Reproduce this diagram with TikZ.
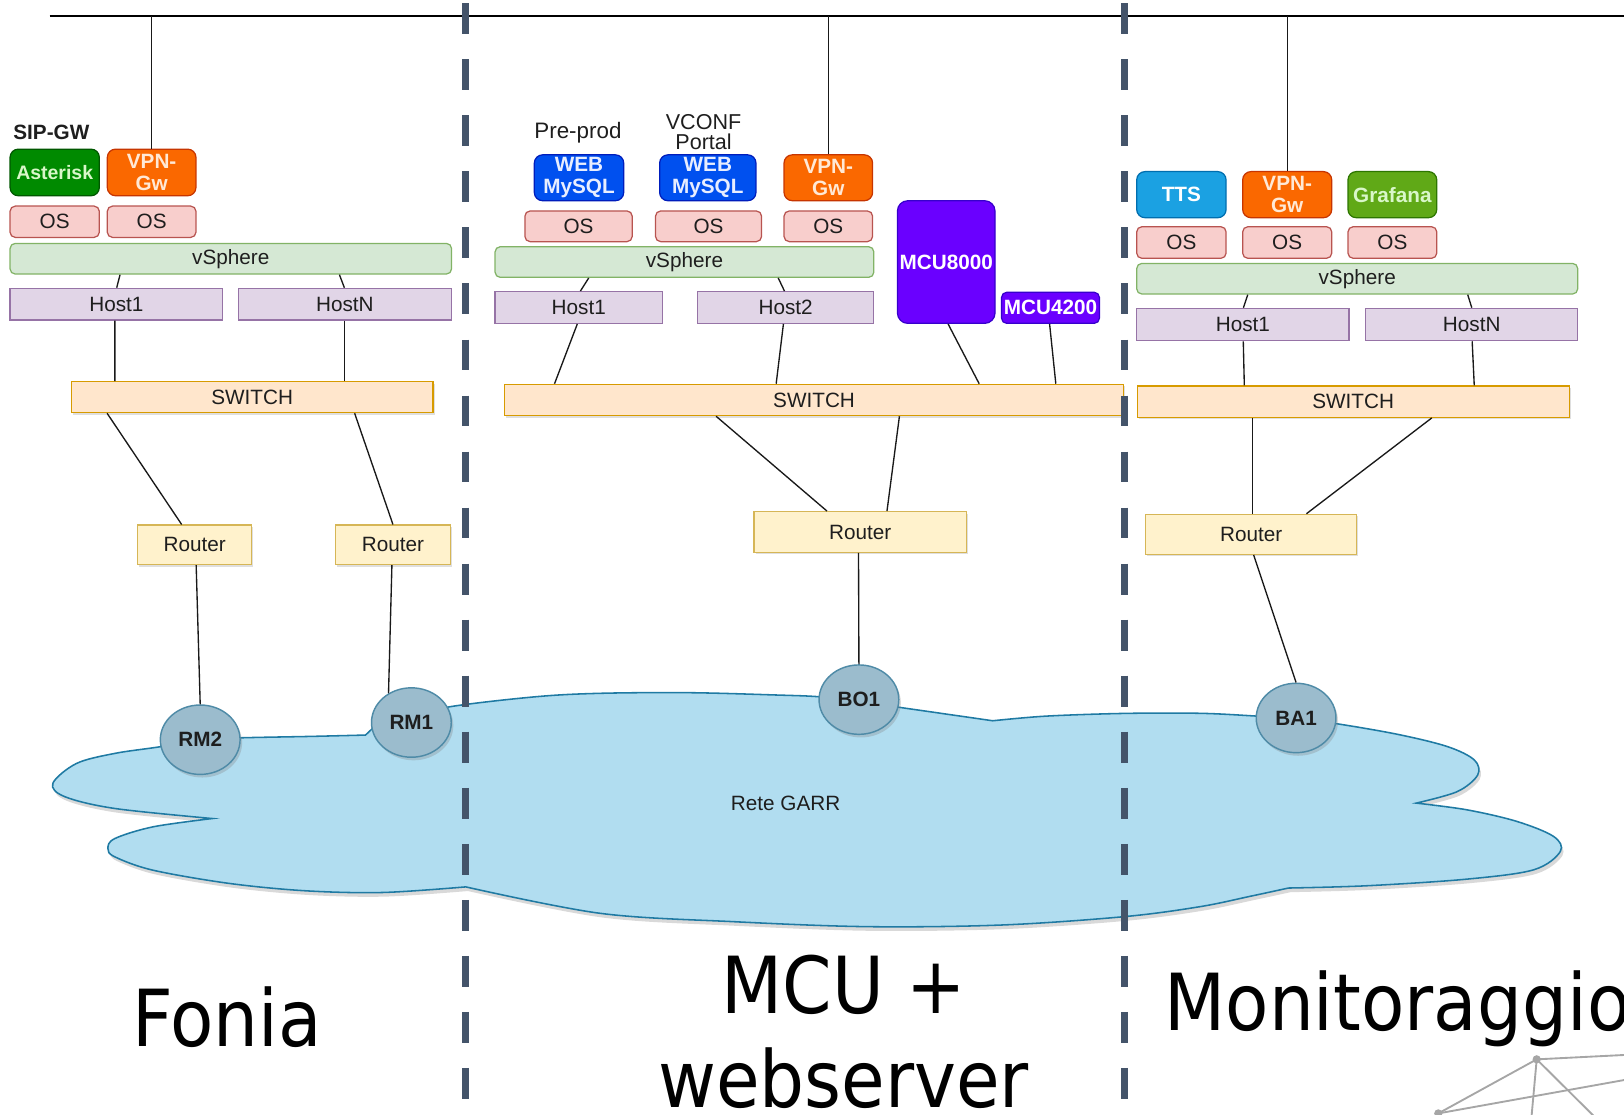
\documentclass[tikz,border=0pt]{standalone}
\usepackage{fontspec}
\setmainfont{Liberation Sans}
\newfontfamily\bigfont{DejaVu Sans}
\usepackage{graphicx}
\usetikzlibrary{calc,shapes.geometric,shadows}
\definecolor{txt}{HTML}{1E1E1E}
\definecolor{osfill}{HTML}{F8CECC}\definecolor{osline}{HTML}{B85450}
\definecolor{vsfill}{HTML}{D5E8D4}\definecolor{vsline}{HTML}{82B366}
\definecolor{hfill}{HTML}{E1D5E7}\definecolor{hline}{HTML}{9673A6}
\definecolor{swfill}{HTML}{FFE6CC}\definecolor{swline}{HTML}{D79B00}
\definecolor{rtfill}{HTML}{FFF2CC}\definecolor{rtline}{HTML}{D6B656}
\definecolor{grfill}{HTML}{008A00}\definecolor{grline}{HTML}{005700}\definecolor{grtxt}{HTML}{D9F7C9}
\definecolor{gafill}{HTML}{60A917}\definecolor{galine}{HTML}{2D7600}
\definecolor{orfill}{HTML}{FA6800}\definecolor{orline}{HTML}{C73500}\definecolor{ortxt}{HTML}{FFE9D6}
\definecolor{blfill}{HTML}{0050EF}\definecolor{blline}{HTML}{001DBC}\definecolor{bltxt}{HTML}{E8EEFF}
\definecolor{vifill}{HTML}{6A00FF}\definecolor{viline}{HTML}{3700CC}
\definecolor{tsfill}{HTML}{1BA1E2}\definecolor{tsline}{HTML}{006EAF}
\definecolor{cloudfill}{HTML}{B1DDF0}\definecolor{cloudline}{HTML}{1F7AA3}
\definecolor{sitefill}{HTML}{9BBCCD}\definecolor{siteline}{HTML}{4F8BA7}
\definecolor{sepcol}{HTML}{44546A}
\definecolor{decocol}{HTML}{A6A6A6}
\newcommand{\bxn}[7]{\node[#1, minimum width={(#5-#3)*0.5pt}, minimum height={(#6-#4)*0.5pt}] (#2) at ({(#3+#5)/2},{(#4+#6)/2}) {#7};}
\begin{document}
\begin{tikzpicture}[x=0.5pt,y=-0.5pt,
  base/.style={draw, inner sep=0pt, font=\fontsize{10}{10}\selectfont, text=txt, line width=0.6pt, align=center},
  osbox/.style={base, fill=osfill, draw=osline, rounded corners=2.5pt},
  vsbox/.style={base, fill=vsfill, draw=vsline, rounded corners=2.5pt},
  hostbox/.style={base, fill=hfill, draw=hline},
  swbox/.style={base, fill=swfill, draw=swline, drop shadow={shadow xshift=0.8pt,shadow yshift=-1pt,opacity=0.25}},
  rtbox/.style={base, fill=rtfill, draw=rtline, drop shadow={shadow xshift=0.8pt,shadow yshift=-1pt,opacity=0.25}},
  appbox/.style={base, rounded corners=4pt, font=\bfseries\fontsize{10}{10.5}\selectfont},
  greenbox/.style={appbox, fill=grfill, draw=grline, text=grtxt},
  grafbox/.style={appbox, fill=gafill, draw=galine, text=grtxt},
  orangebox/.style={appbox, fill=orfill, draw=orline, text=ortxt},
  bluebox/.style={appbox, fill=blfill, draw=blline, text=bltxt},
  violetbox/.style={appbox, fill=vifill, draw=viline, text=white},
  ttsbox/.style={appbox, fill=tsfill, draw=tsline, text=white},
  site/.style={ellipse, draw=siteline, fill=sitefill, line width=0.7pt, minimum width=38.5pt, minimum height=33.5pt, inner sep=0pt, text=txt, font=\bfseries\fontsize{10}{10}\selectfont, drop shadow={shadow xshift=1pt,shadow yshift=-1.5pt,opacity=0.3}},
  lbl/.style={inner sep=0pt, text=txt, font=\fontsize{10}{10}\selectfont, align=center},
  conn/.style={draw=black!90, line width=0.65pt},
  topline/.style={draw=black, line width=1pt},
  sepline/.style={draw=sepcol, line width=3.5pt, dash pattern=on 14.9pt off 12.15pt},
  bigtxt/.style={inner sep=0pt, anchor=base, text=black, font=\bigfont\fontsize{38}{45}\selectfont},
  deco/.style={draw=decocol, line width=0.9pt}
]
\useasboundingbox (0,0) rectangle (1568,1076);

% ---- cloud ----
\path[fill=cloudfill, draw=cloudline, line width=0.75pt, drop shadow={shadow xshift=1pt,shadow yshift=-2pt,opacity=0.3}]
  plot[smooth, tension=0.55] coordinates {(205,790.3) (110.9,780.6) (62.8,769.3) (51,756.4) (73.9,737.1) (110.9,727.4) (155.2,720.9) (193,714) (234.6,712.3) (300,711) (352.9,709.7)}
  -- plot[smooth, tension=0.55] coordinates {(360,703) (397,693) (434.2,682.4) (517.3,672.7) (579.4,669.4) (665.5,668.8) (751.7,671.1) (790.5,672.7) (829,677) (868.8,683)}
  -- plot[smooth, tension=0.55] coordinates {(958.5,695.9) (1010.3,691.4) (1085.8,688.8) (1158.6,688.7) (1211.7,691.3) (1251,694) (1288.3,698.4) (1349.4,709) (1397.7,720.9) (1423.5,733.8) (1426.7,748.3) (1407,764.3) (1367.4,775.4)}
  -- plot[smooth, tension=0.55] coordinates {(1367.4,775.4) (1416.4,781.9) (1464.6,793.1) (1500,807.6) (1506.5,822.1) (1480.8,839.8) (1416.4,848.8) (1319.8,855.2) (1244,857.4)}
  -- plot[smooth, tension=0.55] coordinates {(1244,857.4) (1207,865.4) (1158.6,875.4) (1085.8,885) (967.2,893.1) (837.9,894.7) (708.6,889.9) (579.3,881.8) (449.7,856.3)}
  -- plot[smooth, tension=0.55] coordinates {(449.7,856.3) (369.5,861.7) (295.6,860.1) (221.7,853) (147.8,840.2) (110.9,827.3) (104.2,819.2) (110.9,809.6) (147.8,798.3) (205,790.3)}
  -- cycle;
\node[lbl] (garr) at (758.5,776) {Rete GARR};

% ---- top line ----
\coordinate (topL) at (48,15.5);
\coordinate (topR) at (1568,15.5);
\draw[topline] (topL) -- (topR);

% ---- Fonia ----
\node[lbl, font=\bfseries\fontsize{10}{10}\selectfont] (sipgw) at (49.6,128) {SIP-GW};
\bxn{greenbox, font=\bfseries\fontsize{9.4}{10}\selectfont}{ast}{9.7}{144}{95.9}{189}{Asterisk}
\bxn{orangebox}{vpnA}{103.6}{144}{189.2}{189}{VPN-\\Gw}
\bxn{osbox}{osA1}{9.7}{199}{95.9}{229.2}{OS}
\bxn{osbox}{osA2}{103.6}{199}{189.2}{229.2}{OS}
\bxn{vsbox}{vsA}{9.7}{235}{436}{264.6}{vSphere}
\bxn{hostbox}{hA1}{9.7}{278.4}{215}{309}{Host1}
\bxn{hostbox}{hA2}{230}{278.4}{436}{309}{HostN}
\bxn{swbox}{swA}{69}{368.5}{418}{398.4}{SWITCH}
\bxn{rtbox}{rA1}{133}{507}{243}{545}{Router}
\bxn{rtbox}{rA2}{324}{507}{435}{545}{Router}
\node[site] (RM2) at (193.3,714.2) {RM2};
\node[site] (RM1) at (397.2,697.6) {RM1};

\draw[conn] (vpnA.north) -- (vpnA.north |- topL);
\draw[conn] ($(vsA.south west)+(106.8,0)$) -- ($(hA1.north west)+(103.6,0)$);
\draw[conn] ($(vsA.south west)+(318.6,0)$) -- ($(hA2.north west)+(103.1,0)$);
\draw[conn] ($(hA1.south west)+(101.8,0)$) -- ($(swA.north west)+(42.5,0)$);
\draw[conn] ($(hA2.south west)+(103,0)$) -- ($(swA.north west)+(264,0)$);
\draw[conn] ($(swA.south west)+(35,0)$) -- ($(rA1.north west)+(43,0)$);
\draw[conn] ($(swA.south west)+(274,0)$) -- ($(rA2.north west)+(56,0)$);
\draw[conn] ($(rA1.south west)+(57,0)$) -- (RM2.north);
\draw[conn] ($(rA2.south west)+(55,0)$) -- (RM1.128);

% ---- MCU + webserver ----
\node[lbl, font=\fontsize{10.8}{10.8}\selectfont] (preprod) at (558,127.8) {Pre-prod};
\node[lbl, font=\fontsize{10.4}{10}\selectfont] (vconf) at (679.3,127.5) {VCONF\\Portal};
\bxn{bluebox}{web1}{515.9}{149.5}{602.2}{193.8}{WEB\\MySQL}
\bxn{bluebox}{web2}{636.9}{149.5}{729.9}{193.8}{WEB\\MySQL}
\bxn{orangebox}{vpnB}{757}{149.5}{842.5}{193.8}{VPN-\\Gw}
\bxn{osbox}{osB1}{506.8}{203.7}{610.4}{233.3}{OS}
\bxn{osbox}{osB2}{632.9}{203.7}{735.3}{233.3}{OS}
\bxn{osbox}{osB3}{757}{203.7}{842.5}{233.3}{OS}
\bxn{vsbox}{vsB}{478}{238.2}{843.7}{267.8}{vSphere}
\bxn{hostbox}{hB1}{478}{281.6}{639.6}{312.2}{Host1}
\bxn{hostbox}{hB2}{673.5}{281.6}{843.7}{312.2}{Host2}
\bxn{violetbox, rounded corners=5pt}{mcu8}{866.5}{193.8}{960.7}{312.2}{MCU8000}
\bxn{violetbox, rounded corners=2.5pt}{mcu4}{967}{282.2}{1061.5}{312.2}{MCU4200}
\bxn{swbox}{swB}{487}{371.1}{1085}{401.3}{SWITCH}
\bxn{rtbox}{rB}{728}{494}{933}{533.3}{Router}
\node[site] (BO1) at (829.3,675.5) {BO1};

\draw[conn] (vpnB.north) -- (vpnB.north |- topL);
\draw[conn] ($(vsB.south west)+(91,0)$) -- ($(hB1.north west)+(83,0)$);
\draw[conn] ($(vsB.south west)+(274,0)$) -- ($(hB2.north west)+(84.5,0)$);
\draw[conn] ($(hB1.south west)+(80,0)$) -- ($(swB.north west)+(49,0)$);
\draw[conn] ($(hB2.south west)+(83.5,0)$) -- ($(swB.north west)+(263,0)$);
\draw[conn] ($(mcu8.south west)+(49.5,0)$) -- ($(swB.north west)+(459,0)$);
\draw[conn] ($(mcu4.south west)+(47,0)$) -- ($(swB.north west)+(533,0)$);
\draw[conn] ($(swB.south west)+(205,0)$) -- ($(rB.north west)+(71,0)$);
\draw[conn] ($(swB.south west)+(382,0)$) -- ($(rB.north west)+(129,0)$);
\draw[conn] ($(rB.south west)+(101.5,0)$) -- (BO1.north);

% ---- Monitoraggio ----
\bxn{ttsbox}{tts}{1097.5}{165.7}{1183.8}{210.2}{TTS}
\bxn{orangebox}{vpnC}{1199.8}{165.7}{1285.8}{210.2}{VPN-\\Gw}
\bxn{grafbox}{graf}{1301.5}{165.7}{1387.2}{210.2}{Grafana}
\bxn{osbox}{osC1}{1097.5}{218.9}{1183.8}{249.4}{OS}
\bxn{osbox}{osC2}{1199.8}{218.9}{1285.8}{249.4}{OS}
\bxn{osbox}{osC3}{1301.5}{218.9}{1387.2}{249.4}{OS}
\bxn{vsbox}{vsC}{1097.5}{254.3}{1523.3}{283.9}{vSphere}
\bxn{hostbox}{hC1}{1097.5}{297.7}{1302.5}{328.9}{Host1}
\bxn{hostbox}{hC2}{1318.6}{297.7}{1523.3}{328.9}{HostN}
\bxn{swbox}{swC}{1098}{372.7}{1515}{402.9}{SWITCH}
\bxn{rtbox}{rC}{1106}{496.6}{1310}{535.2}{Router}
\node[site] (BA1) at (1251.4,693.2) {BA1};

\draw[conn] (vpnC.north) -- (vpnC.north |- topL);
\draw[conn] ($(vsC.south west)+(107.8,0)$) -- ($(hC1.north west)+(103.6,0)$);
\draw[conn] ($(vsC.south west)+(320.2,0)$) -- ($(hC2.north west)+(103,0)$);
\draw[conn] ($(hC1.south west)+(103.5,0)$) -- ($(swC.north west)+(104,0)$);
\draw[conn] ($(hC2.south west)+(103.4,0)$) -- ($(swC.north west)+(326,0)$);
\draw[conn] ($(swC.south west)+(112,0)$) -- ($(rC.north west)+(104,0)$);
\draw[conn] ($(swC.south west)+(285,0)$) -- ($(rC.north west)+(156,0)$);
\draw[conn] ($(rC.south west)+(105,0)$) -- (BA1.north);

% ---- separators ----
\coordinate (s1t) at (449.7,3.2); \coordinate (s1b) at (449.7,1061);
\coordinate (s2t) at (1085.8,3.2); \coordinate (s2b) at (1085.8,1061);
\draw[sepline] (s1t) -- (s1b);
\draw[sepline] (s2t) -- (s2b);

% ---- big section titles ----
\node[bigtxt] (fonia) at (219,1010) {\scalebox{0.9}[1]{Fonia}};
\node[bigtxt] (mcuA) at (814.5,979) {\scalebox{0.9}[1]{MCU +}};
\node[bigtxt] (mcuB) at (814.5,1069) {\scalebox{0.9}[1]{webserver}};
\node[bigtxt, anchor=base west] (moni) at (1124,994.5) {\scalebox{0.9}[1]{Monitoraggio}};

% ---- corner decoration ----
\coordinate (d1) at (1483.7,1022.8);
\coordinate (d2) at (1388.7,1075);
\coordinate (e1) at (1568,1018.6);
\coordinate (e2) at (1478.8,1077);
\coordinate (e3) at (1538.3,1077);
\coordinate (e4) at (1568,1042.8);
\draw[deco] (d1) -- (e1);
\draw[deco] (d1) -- (d2);
\draw[deco] (d1) -- (e2);
\draw[deco] (d1) -- (e3);
\draw[deco] (d2) -- (e4);
\fill[decocol] (d1) circle (2pt);
\fill[decocol] (d2) circle (2pt);
\end{tikzpicture}
\end{document}
